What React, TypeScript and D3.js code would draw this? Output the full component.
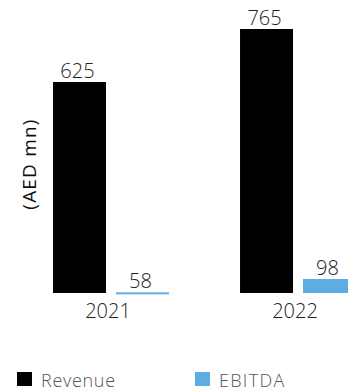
import React from "react";
import * as d3 from "d3";

const years = ["2021", "2022"];
const seriesNames = ["Revenue", "EBITDA"];
const revenue = [625, 765];
const ebitda = [58, 98];
const colors = ["#000000", "#5dade2"];
const yAxisLabel = "(AED mn)";

const W = 348;
const H = 392;
const FONT = "'Open Sans', sans-serif";

export default function App() {
  const x0 = d3.scaleBand<string>().domain(years).range([53, 356]).paddingInner(0.38).paddingOuter(0);
  const x1 = d3.scaleBand<string>().domain(seriesNames).range([0, x0.bandwidth()]).paddingInner(0.1587);
  const yRev = d3.scaleLinear().domain([68, 765]).range([293, 29]);
  const yEb = d3.scaleLinear().domain([56, 98]).range([293, 279]);
  const base = 293;

  const bars: { key: string; x: number; y: number; h: number; color: string; value: number }[] = [];
  years.forEach((yr, i) => {
    seriesNames.forEach((s, j) => {
      const v = j === 0 ? revenue[i] : ebitda[i];
      const sc = j === 0 ? yRev : yEb;
      const top = sc(v);
      const h = Math.max(base - top, 2);
      bars.push({ key: yr + s, x: (x0(yr) ?? 0) + (x1(s) ?? 0), y: top, h, color: colors[j], value: v });
    });
  });

  return (
    <svg width={W} height={H} style={{ position: "absolute", left: 0, top: 0 }} fontFamily={FONT}>
      <rect width={W} height={H} fill="#fff" />
      <text
        transform={`translate(29,164) rotate(-90)`}
        textAnchor="middle"
        dominantBaseline="central"
        fontSize={19}
        fontWeight={400}
        fill="#111"
        letterSpacing={1.2}
      >
        {yAxisLabel}
      </text>
      {bars.map((b) => (
        <g key={b.key}>
          <rect x={b.x} y={b.y} width={x1.bandwidth()} height={b.h} fill={b.color} />
          <text
            x={b.x + x1.bandwidth() / 2 - 2}
            y={b.y - 4.5}
            textAnchor="middle"
            fontSize={20}
            fontWeight={300}
            fill="#222"
          >
            {b.value}
          </text>
        </g>
      ))}
      {years.map((yr) => (
        <text
          key={yr}
          x={(x0(yr) ?? 0) + x0.bandwidth() / 2 - 3}
          y={318}
          textAnchor="middle"
          fontSize={20}
          fontWeight={300}
          fill="#222"
        >
          {yr}
        </text>
      ))}
      {seriesNames.map((s, j) => {
        const lx = j === 0 ? 17 : 195;
        return (
          <g key={s}>
            <rect x={lx} y={372} width={15} height={14} fill={colors[j]} />
            <text x={lx + 24} y={387} fontSize={18} fontWeight={300} fill="#555" letterSpacing={j === 0 ? 0.7 : 1.3}>
              {s}
            </text>
          </g>
        );
      })}
    </svg>
  );
}
